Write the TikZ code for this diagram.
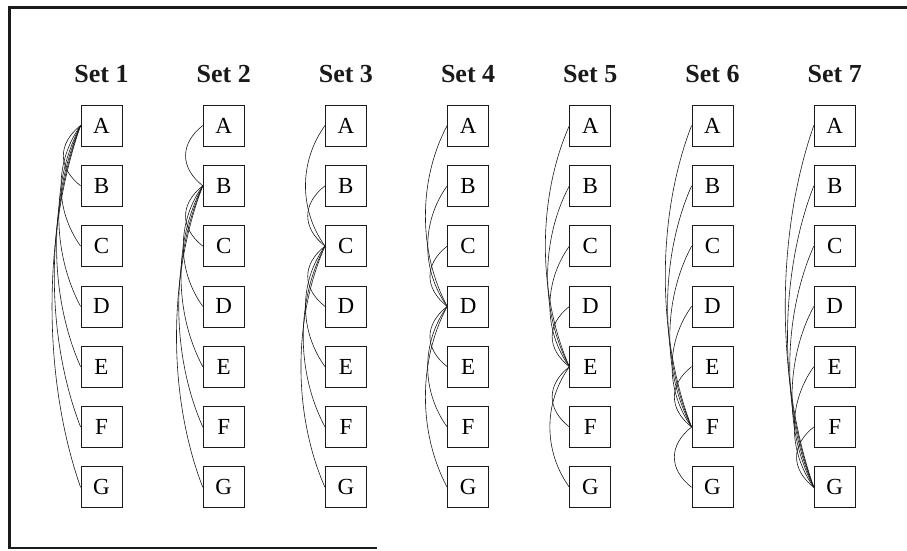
\documentclass[tikz,border=0pt]{standalone}
\usepackage{fontspec}
\setmainfont{Liberation Serif}
\usepackage{tikz}
\usetikzlibrary{calc}
\definecolor{ScanBlack}{HTML}{1A1A1A}

\begin{document}
\begin{tikzpicture}[x=1pt, y=1pt,
    letterbox/.style={draw=ScanBlack, line width=0.8pt, minimum width=41pt,
      minimum height=41pt, inner sep=0pt, font=\fontsize{23}{23}\selectfont},
    settitle/.style={text=ScanBlack, font=\fontsize{26}{26}\selectfont\bfseries},
    link/.style={ScanBlack, line width=0.6pt}]
  \useasboundingbox (0,0) rectangle (907,550);
  % frame
  \draw[ScanBlack, line width=3pt] (907,542.5) -- (9.5,542.5) -- (9.5,2);
  \draw[ScanBlack, line width=2pt] (8,2) -- (377,2);
  % columns of boxes
  \foreach \setno in {1,...,7}{
    \pgfmathsetmacro\cx{101.5+122.2*(\setno-1)}
    \node[settitle] (title\setno) at (\cx,476) {Set \setno};
    \foreach \lbl [count=\row] in {A,...,G}{
      \node[letterbox] (n\setno\lbl) at (\cx,{424.5-60.3*(\row-1)}) {\lbl};
    }
  }
  % links from the set's own letter to all others
  \foreach \setno/\src in {1/A,2/B,3/C,4/D,5/E,6/F,7/G}{
    \foreach \tgt [count=\row] in {A,...,G}{
      \ifnum\row=\setno\else
        \pgfmathsetmacro\dist{60.3*abs(\row-\setno)}
        \pgfmathsetmacro\hh{20+0.05*\dist}
        \pgfmathsetmacro\vv{0.3*\dist*sign(\setno-\row)}
        \draw[link] (n\setno\src.west) .. controls +(-\hh,\vv) and +(-\hh,-\vv) .. (n\setno\tgt.west);
      \fi
    }
  }
\end{tikzpicture}
\end{document}
